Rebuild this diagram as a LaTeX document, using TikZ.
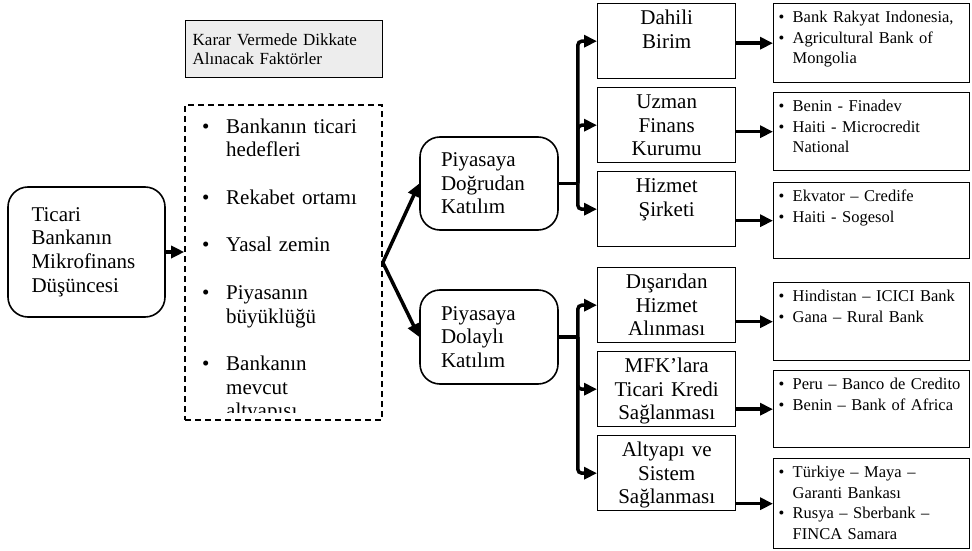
\documentclass[tikz,border=0pt]{standalone}
\usepackage{fontspec}
\setmainfont{Liberation Serif}
\usetikzlibrary{arrows.meta,calc}

\newcommand{\bigtxt}{\fontsize{21pt}{23.6pt}\selectfont}
\newcommand{\smalltxt}{\fontsize{16.5pt}{20.5pt}\selectfont}
\newcommand{\notetxt}{\fontsize{17pt}{19pt}\selectfont}
\newcommand{\bbul}{\makebox[24pt][l]{\textbullet}}
\newcommand{\bind}{\hspace*{24pt}}
\newcommand{\sbul}{\makebox[16pt][l]{\hspace{2pt}\textbullet}}
\newcommand{\sind}{\hspace*{16pt}}

\begin{document}
\begin{tikzpicture}[x=1pt, y=-1pt, >={Triangle[length=13pt,width=12pt]}]

	\tikzstyle{conn}=[->, line width=3.5pt]
	\tikzstyle{roundbox}=[draw, line width=1.6pt, rounded corners=20pt, align=left, font=\bigtxt]
	\tikzstyle{midbox}=[draw, line width=1.4pt, anchor=north west, text width=134pt, inner xsep=2pt, inner ysep=0pt, align=center, text height=21pt, text depth=54pt, font=\bigtxt]
	\tikzstyle{listbox}=[draw, line width=1.4pt, anchor=north west, text width=190pt, inner xsep=3pt, inner ysep=0pt, align=left, text height=19pt, font=\smalltxt]
	\useasboundingbox (0,0) rectangle (972,551);

	% left part
	\node[roundbox, minimum width=157pt, minimum height=130pt, text width=110pt] (idea) at (86.5,252) {Ticari\\Bankanın\\Mikrofinans\\Düşüncesi};
	\node[draw, line width=1.4pt, fill=black!7, anchor=north west, minimum width=197pt, minimum height=57pt, text width=183pt, inner xsep=7pt, align=left, font=\notetxt] (karar) at (185,20) {Karar Vermede Dikkate\\Alınacak Faktörler};
	\node[draw, line width=1.6pt, dash pattern=on 6pt off 4pt, minimum width=197pt, minimum height=315pt] (factors) at (283.5,262.5) {};
	\begin{scope}
		\clip (185,105) rectangle (382,412);
		\node[anchor=base west, text width=175pt, inner sep=0pt, align=left, font=\bigtxt] (factorlist) at (202,133)
			{\bbul Bankanın ticari\\ \bind hedefleri\\[24pt] \bbul Rekabet ortamı\\[24pt] \bbul Yasal zemin\\[24pt] \bbul Piyasanın\\ \bind büyüklüğü\\[24pt] \bbul Bankanın\\ \bind mevcut\\ \bind altyapısı};
	\end{scope}

	\node[roundbox, minimum width=138pt, minimum height=93pt, text width=96pt] (direct) at (489,183.5) {Piyasaya\\Doğrudan\\Katılım};
	\node[roundbox, minimum width=138pt, minimum height=94pt, text width=96pt] (indirect) at (489,337) {Piyasaya\\Dolaylı\\Katılım};

	% middle column
	\node[midbox] (dahili) at (597,3) {Dahili\\Birim};
	\node[midbox] (uzman) at (597,87) {Uzman\\Finans\\Kurumu};
	\node[midbox] (hizmet) at (597,171) {Hizmet\\Şirketi};
	\node[midbox] (disaridan) at (597,267) {Dışarıdan\\Hizmet\\Alınması};
	\node[midbox] (mfk) at (597,351) {MFK’lara\\Ticari Kredi\\Sağlanması};
	\node[midbox] (altyapi) at (597,435) {Altyapı ve\\Sistem\\Sağlanması};

	% examples
	\node[listbox, text depth=60pt] (rakyat) at (773,3) {\sbul Bank Rakyat Indonesia,\\ \sbul Agricultural Bank of\\ \sind Mongolia};
	\node[listbox, text depth=59pt] (finadev) at (773,92) {\sbul Benin - Finadev\\ \sbul Haiti - Microcredit\\ \sind National};
	\node[listbox, text depth=57pt] (credife) at (773,182) {\sbul Ekvator – Credife\\ \sbul Haiti - Sogesol};
	\node[listbox, text depth=59pt] (icici) at (773,282) {\sbul Hindistan – ICICI Bank\\ \sbul Gana – Rural Bank};
	\node[listbox, text depth=58pt] (banco) at (773,370) {\sbul Peru – Banco de Credito\\ \sbul Benin – Bank of Africa};
	\node[listbox, text depth=71pt] (maya) at (773,458) {\sbul Türkiye – Maya –\\ \sind Garanti Bankası\\ \sbul Rusya – Sberbank –\\ \sind FINCA Samara};

	% From idea to factors to both ways
	\draw[conn] (idea.east) -- (idea.east -| factors.west);
	\draw[conn] (factors.east) -- (direct.west);
	\draw[conn] (factors.east) -- (indirect.west);

	% From direct to its boxes
	\coordinate (bus1) at ([xshift=19pt]direct.east);
	\draw[line width=3.5pt] (direct.east) -- (bus1);
	\draw[conn, rounded corners=4pt] (bus1) |- (dahili.west);
	\draw[conn, rounded corners=4pt] (bus1) |- (uzman.west);
	\draw[conn, rounded corners=4pt] (bus1) |- (hizmet.west);

	% From indirect to its boxes
	\coordinate (bus2) at ([xshift=19pt]indirect.east);
	\draw[line width=3.5pt] (indirect.east) -- (bus2);
	\draw[conn, rounded corners=4pt] (bus2) |- (disaridan.west);
	\draw[conn, rounded corners=4pt] (bus2) |- (mfk.west);
	\draw[conn, rounded corners=4pt] (bus2) |- (altyapi.west);

	% examples
	\draw[conn] (rakyat.west -| dahili.east) -- (rakyat.west);
	\draw[conn] (finadev.west -| uzman.east) -- (finadev.west);
	\draw[conn] (credife.west -| hizmet.east) -- (credife.west);
	\draw[conn] (icici.west -| disaridan.east) -- (icici.west);
	\draw[conn] (banco.west -| mfk.east) -- (banco.west);
	\draw[conn] (maya.west -| altyapi.east) -- (maya.west);

\end{tikzpicture}
\end{document}
